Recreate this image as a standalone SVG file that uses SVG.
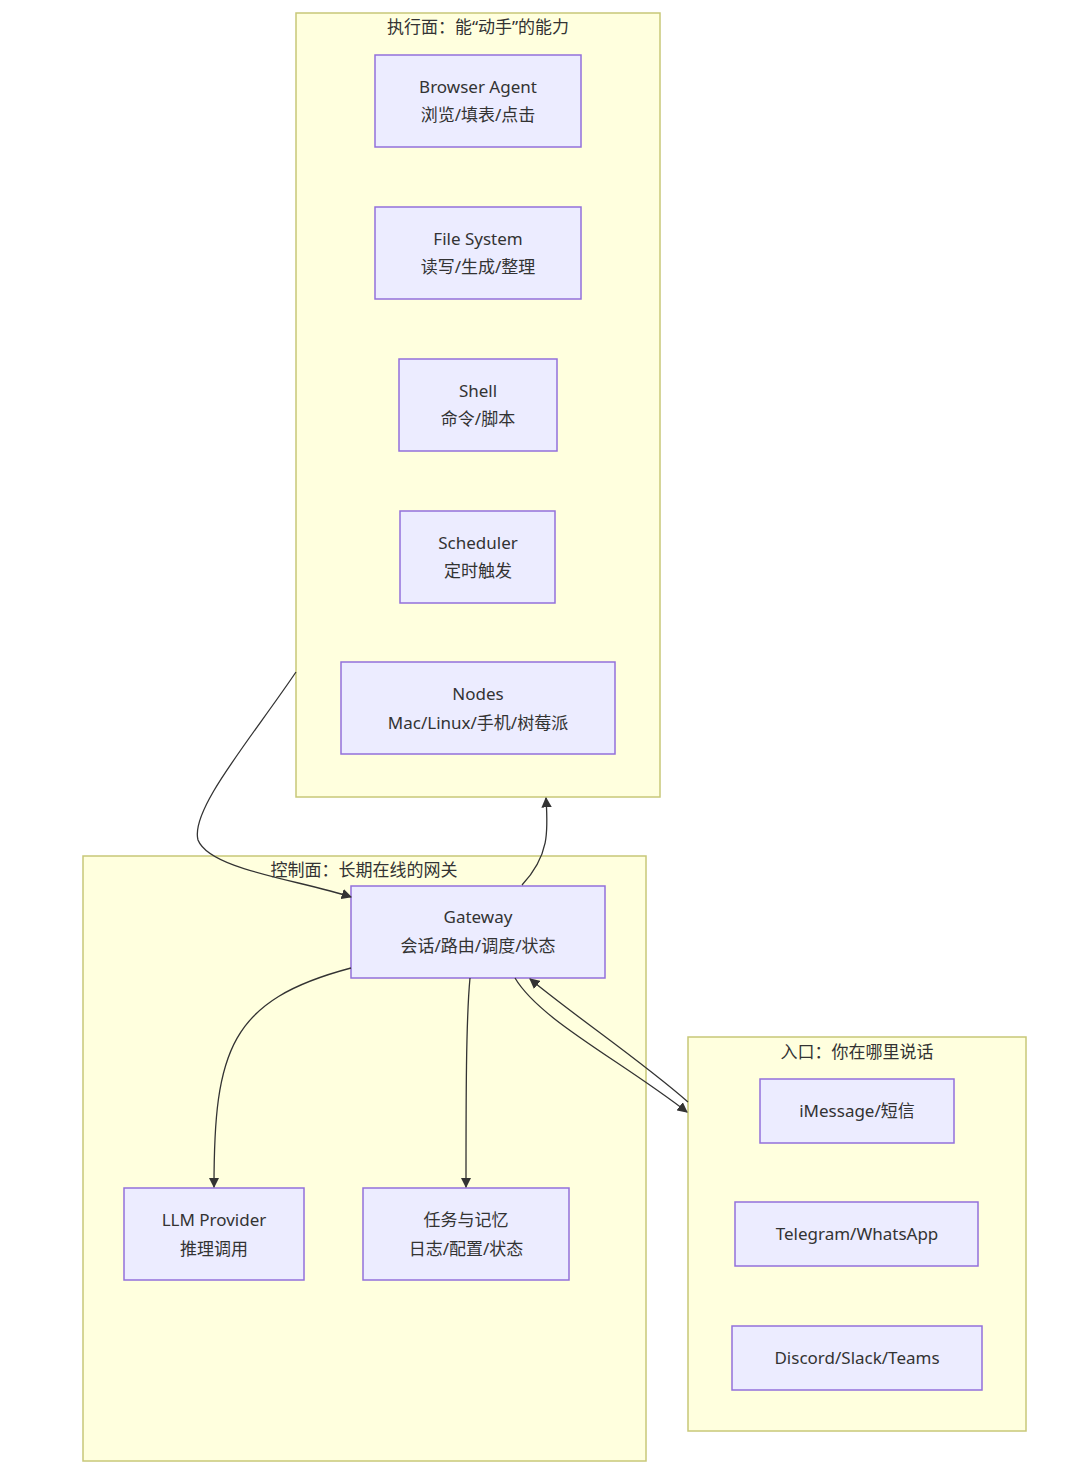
<svg xmlns="http://www.w3.org/2000/svg" width="1080" height="1477" viewBox="0 0 1080 1477">
<style>
.c{fill:#ffffde;stroke:#c8c878;stroke-width:1.5}
.n{fill:#ececff;stroke:#9370db;stroke-width:1.5}
text{font-family:"Noto Sans","Noto Sans CJK SC",sans-serif;font-size:17px;fill:#333;text-anchor:middle}
.e{fill:none;stroke:#333;stroke-width:1.3;marker-end:url(#a)}
</style>
<defs><marker id="a" viewBox="0 0 10 10" refX="9" refY="5" markerWidth="8" markerHeight="8" orient="auto"><path d="M0,0L10,5L0,10z" fill="#333"/></marker></defs>
<rect width="1080" height="1477" fill="#fff"/>
<g id="exec"><rect class="c" x="296" y="13" width="364" height="784"/><text x="478" y="33">执行面：能“动手”的能力</text></g>
<g id="ctrl"><rect class="c" x="83" y="856" width="563" height="605"/><text x="364" y="876">控制面：长期在线的网关</text></g>
<g id="entry"><rect class="c" x="688" y="1037" width="338" height="394"/><text x="857" y="1058">入口：你在哪里说话</text></g>
<g id="browser"><rect class="n" x="375" y="55" width="206" height="92"/><text x="478" y="93">Browser Agent</text><text x="478" y="121">浏览/填表/点击</text></g>
<g id="fs"><rect class="n" x="375" y="207" width="206" height="92"/><text x="478" y="245">File System</text><text x="478" y="273">读写/生成/整理</text></g>
<g id="shell"><rect class="n" x="399" y="359" width="158" height="92"/><text x="478" y="397">Shell</text><text x="478" y="425">命令/脚本</text></g>
<g id="sched"><rect class="n" x="400" y="511" width="155" height="92"/><text x="478" y="549">Scheduler</text><text x="478" y="577">定时触发</text></g>
<g id="nodes"><rect class="n" x="341" y="662" width="274" height="92"/><text x="478" y="700">Nodes</text><text x="478" y="729">Mac/Linux/手机/树莓派</text></g>
<g id="gateway"><rect class="n" x="351" y="886" width="254" height="92"/><text x="478" y="923">Gateway</text><text x="478" y="952">会话/路由/调度/状态</text></g>
<g id="llm"><rect class="n" x="124" y="1188" width="180" height="92"/><text x="214" y="1226">LLM Provider</text><text x="214" y="1255">推理调用</text></g>
<g id="mem"><rect class="n" x="363" y="1188" width="206" height="92"/><text x="466" y="1226">任务与记忆</text><text x="466" y="1255">日志/配置/状态</text></g>
<g id="imsg"><rect class="n" x="760" y="1079" width="194" height="64"/><text x="857" y="1117">iMessage/短信</text></g>
<g id="tg"><rect class="n" x="735" y="1202" width="243" height="64"/><text x="857" y="1240">Telegram/WhatsApp</text></g>
<g id="dc"><rect class="n" x="732" y="1326" width="250" height="64"/><text x="857" y="1364">Discord/Slack/Teams</text></g>
<g id="edges">
<path class="e" d="M296,672 C250,740 190,810 198,840 C210,870 300,880 351,897"/>
<path class="e" d="M522,885 C550,855 548,830 546,798"/>
<path class="e" d="M515,978 C540,1020 620,1060 687,1112"/>
<path class="e" d="M688,1102 C640,1060 580,1020 530,979"/>
<path class="e" d="M351,968 C230,1000 214,1050 214,1187"/>
<path class="e" d="M470,978 C466,1020 466,1100 466,1187"/>
</g>
</svg>
